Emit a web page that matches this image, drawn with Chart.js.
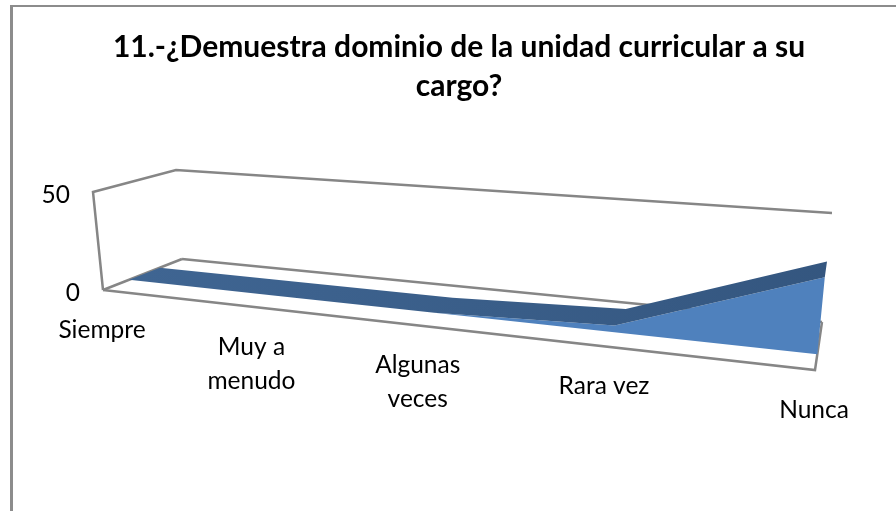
<!DOCTYPE html>
<html>
<head>
<meta charset="utf-8">
<script src="https://cdn.jsdelivr.net/npm/chart.js@4/dist/chart.umd.min.js"></script>
<style>
  html, body { margin: 0; padding: 0; background: #fff; overflow: hidden; }
  #wrap { position: absolute; left: 10px; top: 5px; width: 900px; height: 520px; border-top: 2px solid #8c8c8c; border-left: 3px solid #8c8c8c; }
  #areaChart { display: block; margin-left: -1px; }
</style>
</head>
<body>
<div id="wrap"><canvas id="areaChart" width="894" height="504"></canvas></div>
<script>
const titleLines = ['11.-¿Demuestra dominio de la unidad curricular a su', 'cargo?'];
const categories = ['Siempre', ['Muy a', 'menudo'], ['Algunas', 'veces'], 'Rara vez', 'Nunca'];
const values = [0, 0, 0, 3, 33];
const baseValues = [0, 0, 0, 0, 0];
const yMax = 50;

// 3d box corners, canvas pixels (floor front/back, top front/back; left then right)
const floorFront = [[91, 283], [803, 363]];
const floorBack = [[170, 252], [810, 315]];
const topFront = [[81, 185], [815, 243]];
const topBack = [[164, 163], [820, 206]];
const perspective = 1.255;
const depthFront = 0.33;
const depthBack = 0.72;

function mix(a, b, t) { return [a[0] + (b[0] - a[0]) * t, a[1] + (b[1] - a[1]) * t]; }

function projectNorm(u, v, d) {
  const w = u / (u + (1 - u) * perspective);
  const bottom = mix(mix(floorFront[0], floorFront[1], w), mix(floorBack[0], floorBack[1], w), d);
  const top = mix(mix(topFront[0], topFront[1], w), mix(topBack[0], topBack[1], w), d);
  return mix(bottom, top, v);
}

function project(chart, px, py, d) {
  const a = chart.chartArea;
  return projectNorm((px - a.left) / (a.right - a.left), (a.bottom - py) / (a.bottom - a.top), d);
}

// filler clips to the x range of its target, which cuts the slanted shapes, so fill here
function fillBetween(chart, lower, upper, color) {
  const ctx = chart.ctx;
  const a = chart.getDatasetMeta(lower).data;
  const b = chart.getDatasetMeta(upper).data;
  ctx.beginPath();
  a.forEach(function(pt, i) { if (i === 0) ctx.moveTo(pt.x, pt.y); else ctx.lineTo(pt.x, pt.y); });
  b.slice().reverse().forEach(function(pt) { ctx.lineTo(pt.x, pt.y); });
  ctx.closePath();
  ctx.fillStyle = color;
  ctx.fill();
}

const box3d = {
  id: 'box3d',
  afterDatasetsUpdate(chart) {
    chart.data.datasets.forEach(function(ds, i) {
      chart.getDatasetMeta(i).data.forEach(function(pt) {
        const p = project(chart, pt.x, pt.y, ds.depth);
        pt.x = p[0];
        pt.y = p[1];
      });
    });
  },
  beforeDraw(chart) {
    const xs = chart.scales.x, ys = chart.scales.y;
    // labels follow the slanted floor, so they leave the axis box
    xs._computeLabelArea = function() { return null; };
    ys._computeLabelArea = function() { return null; };
    xs.getLabelItems(chart.chartArea).forEach(function(item, i) {
      const p = project(chart, xs.getPixelForTick(i), chart.chartArea.bottom, 0);
      item.options.translation = [p[0] - 1, p[1] + 23];
    });
    ys.getLabelItems(chart.chartArea).forEach(function(item, i) {
      const p = project(chart, chart.chartArea.left, ys.getPixelForTick(i), 0);
      item.options.translation = [p[0] - 23, p[1] + 3];
    });
  },
  beforeDatasetsDraw(chart) {
    const ctx = chart.ctx;
    const paths = [
      [[0, 0, 0], [1, 0, 0], [1, 0, 1]],
      [[0, 0, 1], [1, 0, 1]],
      [[0, 0, 0], [0, 0, 1]],
      [[0, 0, 0], [0, 1, 0], [0, 1, 1], [1, 1, 1]]
    ];
    ctx.save();
    ctx.strokeStyle = '#868686';
    ctx.lineWidth = 2.5;
    paths.forEach(function(path) {
      ctx.beginPath();
      path.forEach(function(c, i) {
        const p = projectNorm(c[0], c[1], c[2]);
        if (i === 0) ctx.moveTo(p[0], p[1]); else ctx.lineTo(p[0], p[1]);
      });
      ctx.stroke();
    });
    const strip = ctx.createLinearGradient(130, 0, 830, 0);
    strip.addColorStop(0, '#3f6592');
    strip.addColorStop(1, '#34567f');
    fillBetween(chart, 0, 1, '#4f81bd');
    fillBetween(chart, 1, 2, strip);
    ctx.restore();
  }
};

new Chart(document.getElementById('areaChart'), {
  type: 'line',
  plugins: [box3d],
  data: {
    labels: categories,
    datasets: [
      { label: 'base', data: baseValues, depth: depthFront, fill: false, borderWidth: 0, pointRadius: 0 },
      { label: 'Serie', data: values, depth: depthFront, fill: false, borderWidth: 0, pointRadius: 0 },
      { label: 'top', data: values, depth: depthBack, fill: false, borderWidth: 0, pointRadius: 0 }
    ]
  },
  options: {
    responsive: false,
    animation: false,
    layout: { padding: { left: 10, right: 10, bottom: 20 } },
    plugins: {
      legend: { display: false },
      tooltip: { enabled: false },
      title: {
        display: true,
        text: titleLines,
        color: '#000',
        font: { family: 'Lato', size: 30, weight: 'bold', lineHeight: 1.3 },
        padding: { top: 21, bottom: 10 }
      }
    },
    scales: {
      x: {
        grid: { display: false },
        border: { display: false },
        ticks: { color: '#000', autoSkip: false, maxRotation: 0, font: { family: 'Lato', size: 24.5, lineHeight: 1.39 } }
      },
      y: {
        min: 0,
        max: yMax,
        grid: { display: false },
        border: { display: false },
        ticks: { color: '#000', stepSize: yMax, font: { family: 'Lato', size: 24.5 } }
      }
    }
  }
});
</script>
</body>
</html>
